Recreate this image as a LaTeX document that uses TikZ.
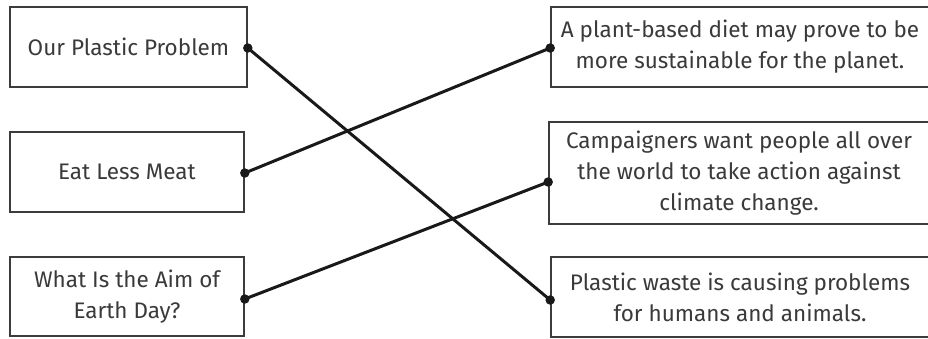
\documentclass[tikz,border=0pt]{standalone}
\usepackage{fontspec}
\setmainfont{Fira Sans}
\definecolor{txt}{HTML}{3A3A3A}
\definecolor{frame}{HTML}{3C3C3C}
\begin{document}
\begin{tikzpicture}[x=1pt,y=-1pt,
  box/.style={draw=frame,line width=1.6pt,rectangle,inner sep=0pt,align=center,
    text=txt,font=\fontsize{22.5}{31}\selectfont},
  link/.style={line width=3pt,draw=black!90},
  dot/.style={circle,fill=black!90,inner sep=0pt,minimum size=9.5pt}]
\useasboundingbox (0,0) rectangle (928,338);
\fill[white] (0,0) rectangle (928,338);
\node[box,minimum width=237pt,minimum height=80pt] (l1) at (128.5,47) {Our Plastic Problem};
\node[box,minimum width=234pt,minimum height=80pt] (l2) at (127,172) {Eat Less Meat};
\node[box,minimum width=234pt,minimum height=79pt] (l3) at (127,296.5) {What Is the Aim of\\Earth Day?};
\node[box,minimum width=378pt,minimum height=80pt] (r1) at (740,47) {A plant-based diet may prove to be\\more sustainable for the planet.};
\node[box,minimum width=380pt,minimum height=102pt] (r2) at (739,173) {Campaigners want people all over\\the world to take action against\\climate change.};
\node[box,minimum width=378pt,minimum height=80pt] (r3) at (740,297) {Plastic waste is causing problems\\for humans and animals.};
\coordinate (a1) at ([yshift=-1pt]l1.east);
\coordinate (a2) at ([yshift=-1pt]l2.east);
\coordinate (a3) at ([yshift=-2.5pt]l3.east);
\coordinate (b1) at ([yshift=-1pt]r1.west);
\coordinate (b2) at ([yshift=-9pt]r2.west);
\coordinate (b3) at ([yshift=-3pt]r3.west);
\draw[link] (a1) -- (b3);
\draw[link] (a2) -- (b1);
\draw[link] (a3) -- (b2);
\foreach \p in {a1,a2,a3,b1,b2,b3} \node[dot] at (\p) {};
\end{tikzpicture}
\end{document}
